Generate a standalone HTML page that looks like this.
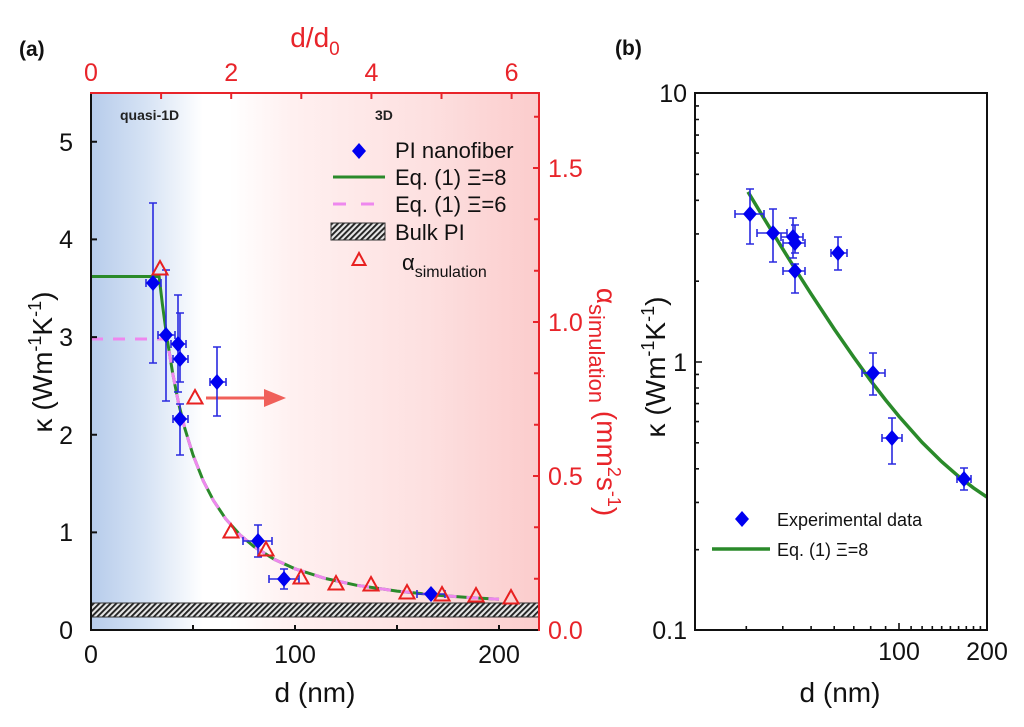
<!DOCTYPE html>
<html><head><meta charset="utf-8"><style>
html,body{margin:0;padding:0;background:#fff;}
svg{display:block;}
text{font-family:"Liberation Sans",Arial,sans-serif;}
</style></head><body>
<svg width="1024" height="727" viewBox="0 0 1024 727" xmlns="http://www.w3.org/2000/svg">
<defs>
<linearGradient id="bg" x1="0" y1="0" x2="1" y2="0">
<stop offset="0" stop-color="#b7cceb"/>
<stop offset="0.12" stop-color="#d5e2f4"/>
<stop offset="0.25" stop-color="#ffffff"/>
<stop offset="0.31" stop-color="#ffffff"/>
<stop offset="0.45" stop-color="#fff0f0"/>
<stop offset="0.75" stop-color="#fde0e0"/>
<stop offset="1" stop-color="#fbcccc"/>
</linearGradient>
<pattern id="h" width="4" height="4" patternUnits="userSpaceOnUse" patternTransform="rotate(45)">
<rect width="4" height="4" fill="#e6e6e6"/><rect width="1.9" height="4" fill="#222"/>
</pattern>
</defs>

<!-- ===== Panel (a) ===== -->
<text x="19" y="56" font-size="21" font-weight="bold" fill="#111">(a)</text>
<rect x="91" y="93" width="448" height="537" fill="url(#bg)"/>
<text x="120" y="120" font-size="14" font-weight="bold" fill="#222">quasi-1D</text>
<text x="375" y="120" font-size="14" font-weight="bold" fill="#222">3D</text>

<!-- hatched bulk band -->
<rect x="91" y="603" width="448" height="14" fill="url(#h)" stroke="#333" stroke-width="1"/>

<!-- curves -->
<path d="M91,276.5 L159.1,276.5 L162.4,304.3 L166.5,334.8 L172.6,372.8 L178.6,403.4 L184.8,428.3 L193,454.9 L203.2,480.7 L213.4,500.4 L225.6,518.7 L239.9,534.8 L254.2,546.8 L274.6,559.5 L295,568.8 L325.6,578.5 L356.2,585.2 L397,591.1 L437.8,595.2 L468.4,597.5 L499,599.3" fill="none" stroke="#2a8a2a" stroke-width="3"/>
<path d="M91,339 L167.1,339 L172.6,372.8 L178.6,403.4 L184.8,428.3 L193,454.9 L203.2,480.7 L213.4,500.4 L225.6,518.7 L239.9,534.8 L254.2,546.8 L274.6,559.5 L295,568.8 L325.6,578.5 L356.2,585.2 L397,591.1 L437.8,595.2 L468.4,597.5 L499,599.3" fill="none" stroke="#ee88ee" stroke-width="3" stroke-dasharray="12 10"/>

<!-- arrow -->
<line x1="206" y1="398" x2="268" y2="398" stroke="#f0605a" stroke-width="3"/>
<polygon points="264,389 286,398 264,407" fill="#f0605a"/>

<!-- error bars (a) -->
<g stroke="#2a2ae0" stroke-width="1.6" fill="none">
<path d="M153,203V363M149,203H157M149,363H157M146,283H161M146,279V287M161,279V287"/>
<path d="M166,270V401M162,270H170M162,401H170M158,335H175M158,331V339M175,331V339"/>
<path d="M178,295V392M174,295H182M174,392H182M171,344H186M171,340V348M186,340V348"/>
<path d="M180,313V382M176,313H184M176,382H184M173,359H188M173,355V363M188,355V363"/>
<path d="M180,404V455M176,404H184M176,455H184M173,419H188M173,415V423M188,415V423"/>
<path d="M217,347V416M213,347H221M213,416H221M210,382H226M210,378V386M226,378V386"/>
<path d="M258,525V557M254,525H262M254,557H262M243,541H272M243,537V545M272,537V545"/>
<path d="M284,569V589M280,569H288M280,589H288M269,579H299M269,575V583M299,575V583"/>
<path d="M431,589V599M417,594H445M417,590V598M445,590V598"/>
</g>
<!-- diamonds (a) -->
<g fill="#0000f0">
<polygon points="153,275 160,283 153,291 146,283"/>
<polygon points="166,327 173,335 166,343 159,335"/>
<polygon points="178,336 185,344 178,352 171,344"/>
<polygon points="180,351 187,359 180,367 173,359"/>
<polygon points="180,411 187,419 180,427 173,419"/>
<polygon points="217,374 224,382 217,390 210,382"/>
<polygon points="258,533 265,541 258,549 251,541"/>
<polygon points="284,571 291,579 284,587 277,579"/>
<polygon points="431,586 438,594 431,602 424,594"/>
</g>
<!-- triangles (a) -->
<g fill="none" stroke="#e82020" stroke-width="2">
<polygon points="160,261 167.5,274.5 152.5,274.5"/>
<polygon points="195,390 202.5,403.5 187.5,403.5"/>
<polygon points="231,524 238.5,537.5 223.5,537.5"/>
<polygon points="266,542 273.5,555.5 258.5,555.5"/>
<polygon points="301,570 308.5,583.5 293.5,583.5"/>
<polygon points="336,576 343.5,589.5 328.5,589.5"/>
<polygon points="371,577 378.5,590.5 363.5,590.5"/>
<polygon points="407,585 414.5,598.5 399.5,598.5"/>
<polygon points="442,587 449.5,600.5 434.5,600.5"/>
<polygon points="476,588 483.5,601.5 468.5,601.5"/>
<polygon points="511,590 518.5,603.5 503.5,603.5"/>
</g>

<!-- axes (a) -->
<line x1="91" y1="630" x2="539" y2="630" stroke="#111" stroke-width="2"/>
<line x1="91" y1="92" x2="91" y2="631" stroke="#111" stroke-width="2"/>
<line x1="90" y1="93" x2="540" y2="93" stroke="#e8242a" stroke-width="2"/>
<line x1="539" y1="92" x2="539" y2="631" stroke="#e8242a" stroke-width="2"/>
<g stroke="#111" stroke-width="2">
<path d="M193,630V625M295,630V625M397,630V625M499,630V625"/>
<path d="M91,532.4H97M91,434.7H97M91,337.1H97M91,239.4H97M91,141.8H97"/>
</g>
<g stroke="#e8242a" stroke-width="2">
<path d="M161.1,93V99M231.2,93V99M301.3,93V99M371.4,93V99M441.5,93V99M511.6,93V99"/>
<path d="M539,578.7H534M539,527.3H534M539,476H533M539,424.7H534M539,373.3H534M539,322H533M539,270.7H534M539,219.3H534M539,168H533M539,116.7H534"/>
</g>
<!-- tick labels (a) -->
<g font-size="25" fill="#111" text-anchor="end">
<text x="73" y="639">0</text><text x="73" y="541">1</text><text x="73" y="444">2</text>
<text x="73" y="346">3</text><text x="73" y="248">4</text><text x="73" y="151">5</text>
</g>
<g font-size="25" fill="#111" text-anchor="middle">
<text x="91" y="663">0</text><text x="295" y="663">100</text><text x="499" y="663">200</text>
</g>
<g font-size="25" fill="#e8242a" text-anchor="middle">
<text x="91" y="81">0</text><text x="231.2" y="81">2</text><text x="371.4" y="81">4</text><text x="511.6" y="81">6</text>
</g>
<g font-size="25" fill="#e8242a">
<text x="548" y="639">0.0</text><text x="548" y="485">0.5</text><text x="548" y="331">1.0</text><text x="548" y="177">1.5</text>
</g>
<text x="315" y="47" font-size="28" fill="#e8242a" text-anchor="middle">d/d<tspan font-size="19" dy="8">0</tspan></text>
<text x="315" y="702" font-size="28" fill="#111" text-anchor="middle">d (nm)</text>
<text transform="translate(52,362) rotate(-90)" font-size="28" fill="#111" text-anchor="middle">κ (Wm<tspan font-size="18" dy="-11">-1</tspan><tspan dy="11">K</tspan><tspan font-size="18" dy="-11">-1</tspan><tspan dy="11">)</tspan></text>
<text transform="translate(597,402) rotate(90)" font-size="28" fill="#e8242a" text-anchor="middle">α<tspan font-size="22" dy="8">simulation</tspan><tspan dy="-8"> (mm</tspan><tspan font-size="18" dy="-11">2</tspan><tspan dy="11">s</tspan><tspan font-size="18" dy="-11">-1</tspan><tspan dy="11">)</tspan></text>

<!-- legend (a) -->
<polygon points="359,143 366,151 359,159 352,151" fill="#0000f0"/>
<text x="395" y="158" font-size="22" fill="#111">PI nanofiber</text>
<line x1="333" y1="177" x2="385" y2="177" stroke="#2a8a2a" stroke-width="3"/>
<text x="395" y="185" font-size="22" fill="#111">Eq. (1)  Ξ=8</text>
<line x1="333" y1="204" x2="385" y2="204" stroke="#ee88ee" stroke-width="3" stroke-dasharray="13 15"/>
<text x="395" y="212" font-size="22" fill="#111">Eq. (1)  Ξ=6</text>
<rect x="331" y="223" width="54" height="17" fill="url(#h)" stroke="#333" stroke-width="1"/>
<text x="395" y="240" font-size="22" fill="#111">Bulk PI</text>
<polygon points="359,253 365.5,265 352.5,265" fill="none" stroke="#e82020" stroke-width="2"/>
<text x="402" y="270" font-size="22" fill="#111">α<tspan font-size="16" dy="7">simulation</tspan></text>

<!-- ===== Panel (b) ===== -->
<text x="615" y="55" font-size="21" font-weight="bold" fill="#111">(b)</text>
<path d="M748,191.9 L765.9,221.5 L782.8,249.1 L797.7,273 L811.1,293.9 L834.2,329 L853.8,357.3 L870.7,380.7 L885.6,400 L899,416.4 L922.1,442.4 L941.7,461.7 L958.6,476.4 L973.5,487.9 L986.9,497.1" fill="none" stroke="#2a8a2a" stroke-width="3.5"/>
<g stroke="#2a2ae0" stroke-width="1.6" fill="none">
<path d="M750,189V244M746,189H754M746,244H754M735,214H764M735,210V218M764,210V218"/>
<path d="M773,209V262M769,209H777M769,262H777M757,233H787M757,229V237M787,229V237"/>
<path d="M793,218V258M789,218H797M789,258H797M781,237H803M781,233V241M803,233V241"/>
<path d="M795,225V253M791,225H799M791,253H799M783,243H805M783,239V247M805,239V247"/>
<path d="M795,264V293M791,264H799M791,293H799M783,271H805M783,267V275M805,267V275"/>
<path d="M838,237V270M834,237H842M834,270H842M831,253H847M831,249V257M847,249V257"/>
<path d="M873,353V395M869,353H877M869,395H877M862,373H885M862,369V377M885,369V377"/>
<path d="M892,418V464M888,418H896M888,464H896M882,438H902M882,434V442M902,434V442"/>
<path d="M964,468V490M960,468H968M960,490H968M957,479H971M957,475V483M971,475V483"/>
</g>
<g fill="#0000f0">
<polygon points="750,206 757,214 750,222 743,214"/>
<polygon points="773,225 780,233 773,241 766,233"/>
<polygon points="793,229 800,237 793,245 786,237"/>
<polygon points="795,235 802,243 795,251 788,243"/>
<polygon points="795,263 802,271 795,279 788,271"/>
<polygon points="838,245 845,253 838,261 831,253"/>
<polygon points="873,365 880,373 873,381 866,373"/>
<polygon points="892,430 899,438 892,446 885,438"/>
<polygon points="964,471 971,479 964,487 957,479"/>
</g>
<rect x="695" y="93" width="292" height="537" fill="none" stroke="#111" stroke-width="2"/>
<g stroke="#111" stroke-width="1.6">
<path d="M695,362H702M695,93H702M695,630H702"/>
<path d="M695,281.2H699M695,233.9H699M695,200.3H699M695,174.3H699M695,153.1H699M695,135.1H699M695,119.5H699M695,105.9H699"/>
<path d="M695,549.7H699M695,502.4H699M695,468.8H699M695,442.8H699M695,421.6H699M695,403.6H699M695,388H699M695,374.4H699"/>
<path d="M899,630V623M746.3,630V626M782.8,630V626M811.1,630V626M834.2,630V626M853.8,630V626M870.7,630V626M885.6,630V626M911.1,630V626M922.1,630V626M932.3,630V626M941.7,630V626M950.4,630V626M958.6,630V626M966.3,630V626M973.5,630V626M980.4,630V626"/>
</g>
<g font-size="25" fill="#111" text-anchor="end">
<text x="687" y="102">10</text><text x="687" y="371">1</text><text x="687" y="639">0.1</text>
</g>
<g font-size="25" fill="#111" text-anchor="middle">
<text x="899" y="660">100</text><text x="987" y="660">200</text>
</g>
<text x="840" y="702" font-size="28" fill="#111" text-anchor="middle">d (nm)</text>
<text transform="translate(665,367) rotate(-90)" font-size="28" fill="#111" text-anchor="middle">κ (Wm<tspan font-size="18" dy="-11">-1</tspan><tspan dy="11">K</tspan><tspan font-size="18" dy="-11">-1</tspan><tspan dy="11">)</tspan></text>
<polygon points="742,511 749,519 742,527 735,519" fill="#0000f0"/>
<text x="777" y="526" font-size="18" fill="#111">Experimental data</text>
<line x1="712" y1="549" x2="770" y2="549" stroke="#2a8a2a" stroke-width="3.5"/>
<text x="777" y="556" font-size="18" fill="#111">Eq. (1) Ξ=8</text>
</svg>
</body></html>
